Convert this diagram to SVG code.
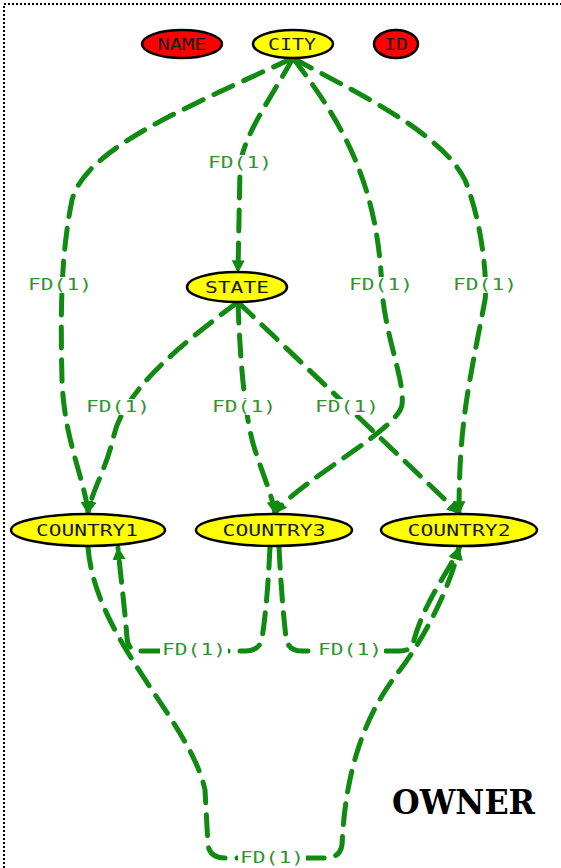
<svg xmlns="http://www.w3.org/2000/svg" width="561" height="868" viewBox="0 0 561 868">
<style>
.bg{fill:#fff}
.frame{fill:none;stroke:#000;stroke-width:2;stroke-dasharray:2,2}
.node ellipse{stroke:#000;stroke-width:2.5}
.y{fill:#ffff00}
.r{fill:#ff0000}
.node text{font-family:"DejaVu Sans Mono",monospace;font-size:16px;fill:#1a1a1a;text-anchor:middle}
.edge{fill:none;stroke:#108a10;stroke-width:5;stroke-dasharray:21,12;stroke-linecap:round;stroke-linejoin:round}
.lb{fill:#fff}
.lbl{font-family:"DejaVu Sans Mono",monospace;font-size:15px;fill:#2f962f;text-anchor:middle}
.title{font-family:"DejaVu Serif","Liberation Serif",serif;font-weight:bold;font-size:34px;fill:#000}
</style>
<defs>
<marker id="arr" viewBox="0 0 10 10" refX="9" refY="5" markerWidth="13" markerHeight="13" markerUnits="userSpaceOnUse" orient="auto">
<path d="M0,0 L10,5 L0,10 z" fill="#108a10"/>
</marker>
</defs>
<rect class="bg" x="0" y="0" width="561" height="868"/>
<path class="frame" d="M4,868 V4 H561"/>
<g id="connectors">
<path id="e-city-country1" class="edge" marker-end="url(#arr)" d="M293,58 C180,110 85,150 72,200 C62,250 60,300 62,380 C64,440 85,480 88,513"/>
<path id="e-city-state" class="edge" marker-end="url(#arr)" d="M293,58 C270,100 240,140 240,170 L238,272"/>
<path id="e-city-country3" class="edge" marker-end="url(#arr)" d="M293,58 C340,120 378,180 382,290 C386,340 405,380 402,405 C398,430 300,480 275,513"/>
<path id="e-city-country2" class="edge" marker-end="url(#arr)" d="M293,58 C350,90 440,130 465,180 C485,230 487,290 485,300 C470,380 459,420 459,513"/>
<path id="e-state-country1" class="edge" marker-end="url(#arr)" d="M238,302 C180,345 125,390 114,435 C106,470 92,490 88,513"/>
<path id="e-state-country3" class="edge" marker-end="url(#arr)" d="M238,302 C240,360 245,420 255,450 C264,478 272,495 275,513"/>
<path id="e-state-country2" class="edge" marker-end="url(#arr)" d="M238,302 L459,513"/>
<path id="e-country3-country1" class="edge" marker-end="url(#arr)" d="M270,547 C268,590 265,620 262,638 Q260,651 245,651 L140,651 Q128,651 127,638 C125,610 121,580 118,548"/>
<path id="e-country3-country2" class="edge" marker-end="url(#arr)" d="M279,547 C281,590 284,620 286,638 Q288,651 302,651 L400,651 Q412,651 414,640 C425,600 450,570 459,548"/>
<path id="e-country1-country2" class="edge" marker-end="url(#arr)" d="M88,547 C95,640 190,720 205,790 L208,845 Q210,858 225,858 L325,858 Q340,858 342,845 C345,780 360,720 400,670 C430,630 452,580 459,548"/>
<g id="edge-labels">
<rect class="lb" x="28" y="277" width="64" height="16"/><text class="lbl" x="60" y="290" textLength="64" lengthAdjust="spacingAndGlyphs">FD(1)</text>
<rect class="lb" x="208" y="155" width="64" height="16"/><text class="lbl" x="240" y="168" textLength="64" lengthAdjust="spacingAndGlyphs">FD(1)</text>
<rect class="lb" x="349" y="277" width="64" height="16"/><text class="lbl" x="381" y="290" textLength="64" lengthAdjust="spacingAndGlyphs">FD(1)</text>
<rect class="lb" x="453" y="277" width="64" height="16"/><text class="lbl" x="485" y="290" textLength="64" lengthAdjust="spacingAndGlyphs">FD(1)</text>
<rect class="lb" x="86" y="399" width="64" height="16"/><text class="lbl" x="118" y="412" textLength="64" lengthAdjust="spacingAndGlyphs">FD(1)</text>
<rect class="lb" x="212" y="399" width="64" height="16"/><text class="lbl" x="244" y="412" textLength="64" lengthAdjust="spacingAndGlyphs">FD(1)</text>
<rect class="lb" x="315" y="399" width="64" height="16"/><text class="lbl" x="347" y="412" textLength="64" lengthAdjust="spacingAndGlyphs">FD(1)</text>
<rect class="lb" x="160" y="642" width="68" height="16"/><text class="lbl" x="194" y="655" textLength="64" lengthAdjust="spacingAndGlyphs">FD(1)</text>
<rect class="lb" x="316" y="642" width="68" height="16"/><text class="lbl" x="350" y="655" textLength="64" lengthAdjust="spacingAndGlyphs">FD(1)</text>
<rect class="lb" x="238" y="850" width="68" height="16"/><text class="lbl" x="272" y="863" textLength="64" lengthAdjust="spacingAndGlyphs">FD(1)</text>
</g>
</g>
<g id="NAME" class="node"><ellipse class="r" cx="182" cy="44" rx="40" ry="14"/><text x="182" y="50" textLength="49" lengthAdjust="spacingAndGlyphs">NAME</text></g>
<g id="CITY" class="node"><ellipse class="y" cx="293" cy="44" rx="40" ry="14"/><text x="292" y="50" textLength="48" lengthAdjust="spacingAndGlyphs">CITY</text></g>
<g id="ID" class="node"><ellipse class="r" cx="396" cy="44" rx="22" ry="14"/><text x="396" y="50" textLength="24" lengthAdjust="spacingAndGlyphs">ID</text></g>
<g id="STATE" class="node"><ellipse class="y" cx="237" cy="287" rx="50" ry="15"/><text x="237" y="293" textLength="64" lengthAdjust="spacingAndGlyphs">STATE</text></g>
<g id="COUNTRY1" class="node"><ellipse class="y" cx="88" cy="530" rx="77" ry="16"/><text x="87" y="536" textLength="102" lengthAdjust="spacingAndGlyphs">COUNTRY1</text></g>
<g id="COUNTRY3" class="node"><ellipse class="y" cx="274" cy="530" rx="78" ry="16"/><text x="274" y="536" textLength="103" lengthAdjust="spacingAndGlyphs">COUNTRY3</text></g>
<g id="COUNTRY2" class="node"><ellipse class="y" cx="459" cy="530" rx="78" ry="16"/><text x="459" y="536" textLength="103" lengthAdjust="spacingAndGlyphs">COUNTRY2</text></g>
<text id="owner" class="title" x="392" y="814" textLength="143" lengthAdjust="spacingAndGlyphs">OWNER</text>
</svg>
